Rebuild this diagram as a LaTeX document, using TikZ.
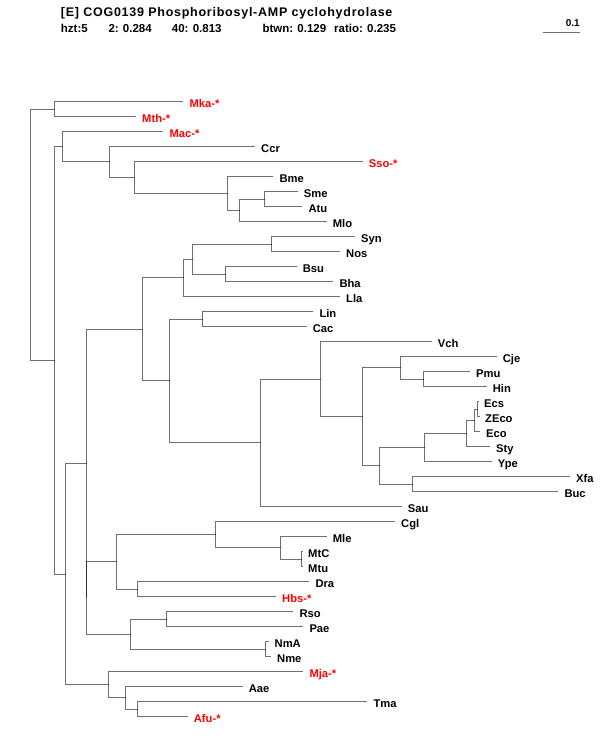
\documentclass[tikz,border=0pt]{standalone}
\usepackage{fontspec}
\setmainfont{Liberation Sans}
\newfontfamily\headfont[LetterSpace=6]{Liberation Sans}
\usetikzlibrary{positioning}

\begin{document}
\begin{tikzpicture}[x=1pt,y=-1pt]
	\tikzset{branch/.style={draw=black,draw opacity=0.56,line width=1.7pt}}
	\tikzset{leaf/.style={font=\fontsize{11.2}{13}\selectfont\bfseries,inner sep=0pt,yshift=-6pt}}
	\tikzset{redleaf/.style={leaf,text=red}}
	\tikzset{head/.style={font=\headfont\fontsize{12.5}{14}\selectfont\bfseries,inner sep=0pt,anchor=base west}}
	\tikzset{stat/.style={font=\fontsize{11.5}{14}\selectfont\bfseries,inner sep=0pt,anchor=base west}}
	\pgfmathsetmacro{\yo}{101.5};
	\pgfmathsetmacro{\dy}{15};
	\useasboundingbox (0,0) rectangle (600,750);
	\node[head] (title) at (60.7,16.7) {[E] COG0139 Phosphoribosyl-AMP cyclohydrolase};
	\node[stat] (hzt) at (60.7,32.3) {hzt:5};
	\node[stat] (s2) at (108.3,32.3) {2: 0.284};
	\node[stat] (s40) at (171.7,32.3) {40: 0.813};
	\node[stat] (btwn) at (262.3,32.3) {btwn: 0.129};
	\node[stat] (ratio) at (334,32.3) {ratio: 0.235};
	\coordinate (sbl) at (542.7,32.5);
	\coordinate (sbr) at (580,32.5);
	\draw[branch] (sbl) -- (sbr);
	\node[inner sep=0pt,font=\fontsize{10}{11}\selectfont\bfseries,above left=6pt and 0pt of sbr] (sblab) {0.1};
	\coordinate (Mka) at (183.3,{\yo+0*\dy}); \node[redleaf,base right=6pt of Mka] (tMka) {Mka-*};
	\coordinate (Mth) at (136,{\yo+1*\dy}); \node[redleaf,base right=6pt of Mth] (tMth) {Mth-*};
	\coordinate (Mac) at (163.3,{\yo+2*\dy}); \node[redleaf,base right=6pt of Mac] (tMac) {Mac-*};
	\coordinate (Ccr) at (255,{\yo+3*\dy}); \node[leaf,base right=6pt of Ccr] (tCcr) {Ccr};
	\coordinate (Sso) at (362.7,{\yo+4*\dy}); \node[redleaf,base right=6pt of Sso] (tSso) {Sso-*};
	\coordinate (Bme) at (273.3,{\yo+5*\dy}); \node[leaf,base right=6pt of Bme] (tBme) {Bme};
	\coordinate (Sme) at (297.7,{\yo+6*\dy}); \node[leaf,base right=6pt of Sme] (tSme) {Sme};
	\coordinate (Atu) at (302.3,{\yo+7*\dy}); \node[leaf,base right=6pt of Atu] (tAtu) {Atu};
	\coordinate (Mlo) at (326.7,{\yo+8*\dy}); \node[leaf,base right=6pt of Mlo] (tMlo) {Mlo};
	\coordinate (Syn) at (355,{\yo+9*\dy}); \node[leaf,base right=6pt of Syn] (tSyn) {Syn};
	\coordinate (Nos) at (340,{\yo+10*\dy}); \node[leaf,base right=6pt of Nos] (tNos) {Nos};
	\coordinate (Bsu) at (296.7,{\yo+11*\dy}); \node[leaf,base right=6pt of Bsu] (tBsu) {Bsu};
	\coordinate (Bha) at (333.3,{\yo+12*\dy}); \node[leaf,base right=6pt of Bha] (tBha) {Bha};
	\coordinate (Lla) at (340,{\yo+13*\dy}); \node[leaf,base right=6pt of Lla] (tLla) {Lla};
	\coordinate (Lin) at (313.3,{\yo+14*\dy}); \node[leaf,base right=6pt of Lin] (tLin) {Lin};
	\coordinate (Cac) at (306.7,{\yo+15*\dy}); \node[leaf,base right=6pt of Cac] (tCac) {Cac};
	\coordinate (Vch) at (431.7,{\yo+16*\dy}); \node[leaf,base right=6pt of Vch] (tVch) {Vch};
	\coordinate (Cje) at (496.7,{\yo+17*\dy}); \node[leaf,base right=6pt of Cje] (tCje) {Cje};
	\coordinate (Pmu) at (470,{\yo+18*\dy}); \node[leaf,base right=6pt of Pmu] (tPmu) {Pmu};
	\coordinate (Hin) at (486.7,{\yo+19*\dy}); \node[leaf,base right=6pt of Hin] (tHin) {Hin};
	\coordinate (Ecs) at (479,{\yo+20*\dy}); \node[leaf,base right=5pt of Ecs] (tEcs) {Ecs};
	\coordinate (ZEco) at (479.5,{\yo+21*\dy}); \node[leaf,base right=5.5pt of ZEco] (tZEco) {ZEco};
	\coordinate (Eco) at (480,{\yo+22*\dy}); \node[leaf,base right=6pt of Eco] (tEco) {Eco};
	\coordinate (Sty) at (490,{\yo+23*\dy}); \node[leaf,base right=6pt of Sty] (tSty) {Sty};
	\coordinate (Ype) at (491.7,{\yo+24*\dy}); \node[leaf,base right=6pt of Ype] (tYpe) {Ype};
	\coordinate (Xfa) at (570,{\yo+25*\dy}); \node[leaf,base right=6pt of Xfa] (tXfa) {Xfa};
	\coordinate (Buc) at (558.3,{\yo+26*\dy}); \node[leaf,base right=6pt of Buc] (tBuc) {Buc};
	\coordinate (Sau) at (401.7,{\yo+27*\dy}); \node[leaf,base right=6pt of Sau] (tSau) {Sau};
	\coordinate (Cgl) at (395,{\yo+28*\dy}); \node[leaf,base right=6pt of Cgl] (tCgl) {Cgl};
	\coordinate (Mle) at (326.7,{\yo+29*\dy}); \node[leaf,base right=6pt of Mle] (tMle) {Mle};
	\coordinate (MtC) at (302,{\yo+30*\dy}); \node[leaf,base right=6pt of MtC] (tMtC) {MtC};
	\coordinate (Mtu) at (302,{\yo+31*\dy}); \node[leaf,base right=6pt of Mtu] (tMtu) {Mtu};
	\coordinate (Dra) at (309.3,{\yo+32*\dy}); \node[leaf,base right=6pt of Dra] (tDra) {Dra};
	\coordinate (Hbs) at (276,{\yo+33*\dy}); \node[redleaf,base right=6pt of Hbs] (tHbs) {Hbs-*};
	\coordinate (Rso) at (293.3,{\yo+34*\dy}); \node[leaf,base right=6pt of Rso] (tRso) {Rso};
	\coordinate (Pae) at (303.3,{\yo+35*\dy}); \node[leaf,base right=6pt of Pae] (tPae) {Pae};
	\coordinate (NmA) at (268.5,{\yo+36*\dy}); \node[leaf,base right=6pt of NmA] (tNmA) {NmA};
	\coordinate (Nme) at (271,{\yo+37*\dy}); \node[leaf,base right=6pt of Nme] (tNme) {Nme};
	\coordinate (Mja) at (303.3,{\yo+38*\dy}); \node[redleaf,base right=6pt of Mja] (tMja) {Mja-*};
	\coordinate (Aae) at (242.7,{\yo+39*\dy}); \node[leaf,base right=6pt of Aae] (tAae) {Aae};
	\coordinate (Tma) at (367.3,{\yo+40*\dy}); \node[leaf,base right=6pt of Tma] (tTma) {Tma};
	\coordinate (Afu) at (187.7,{\yo+41*\dy}); \node[redleaf,base right=6pt of Afu] (tAfu) {Afu-*};
	\coordinate (A) at (54.5,109.5);
	\coordinate (H) at (264.5,199.5);
	\coordinate (G) at (239.5,210.5);
	\coordinate (F) at (227.5,193.5);
	\coordinate (E) at (134.5,177.5);
	\coordinate (D) at (109.5,161.5);
	\coordinate (C) at (62.5,146.5);
	\coordinate (P) at (271.5,244.5);
	\coordinate (Q) at (225.5,274.5);
	\coordinate (O) at (192.5,259.5);
	\coordinate (N) at (183.5,277.5);
	\coordinate (S) at (202.5,319.5);
	\coordinate (X) at (423.5,379.5);
	\coordinate (W) at (400.5,367.5);
	\coordinate (AC) at (477.5,409.5);
	\coordinate (AB) at (474.5,420.5);
	\coordinate (AA) at (466.5,433.5);
	\coordinate (Z) at (424.5,447.5);
	\coordinate (AD) at (412.5,484.5);
	\coordinate (Y) at (379.5,465.5);
	\coordinate (V) at (362.5,416.5);
	\coordinate (U) at (320.5,379.5);
	\coordinate (T) at (260.5,442.5);
	\coordinate (R) at (169.5,380.5);
	\coordinate (K) at (142.5,329.5);
	\coordinate (LC) at (301.5,559.5);
	\coordinate (LB) at (280.5,547.5);
	\coordinate (LA) at (215.5,534.5);
	\coordinate (LD) at (137.5,589.5);
	\coordinate (L) at (116.5,561.5);
	\coordinate (MA) at (166.5,619.5);
	\coordinate (MB) at (265.5,649.5);
	\coordinate (M) at (130.5,634.5);
	\coordinate (J2) at (86.5,597.5);
	\coordinate (J) at (86.5,463.5);
	\coordinate (AG) at (137.5,709.5);
	\coordinate (AF) at (125.5,697.5);
	\coordinate (AE) at (108.5,684.5);
	\coordinate (I) at (65.5,574.5);
	\coordinate (B) at (54.5,360.5);
	\coordinate (root) at (30.5,234.5);
	\draw[branch] (root) |- (A) (root) |- (B);
	\draw[branch] (A) |- (Mka) (A) |- (Mth);
	\draw[branch] (B) |- (C) (B) |- (I);
	\draw[branch] (C) |- (Mac) (C) |- (D);
	\draw[branch] (D) |- (Ccr) (D) |- (E);
	\draw[branch] (E) |- (Sso) (E) |- (F);
	\draw[branch] (F) |- (Bme) (F) |- (G);
	\draw[branch] (G) |- (H) (G) |- (Mlo);
	\draw[branch] (H) |- (Sme) (H) |- (Atu);
	\draw[branch] (I) |- (J) (I) |- (AE);
	\draw[branch] (J) |- (K) (J) |- (J2);
	\draw[branch] (K) |- (N) (K) |- (R);
	\draw[branch] (N) |- (O) (N) |- (Lla);
	\draw[branch] (O) |- (P) (O) |- (Q);
	\draw[branch] (P) |- (Syn) (P) |- (Nos);
	\draw[branch] (Q) |- (Bsu) (Q) |- (Bha);
	\draw[branch] (R) |- (S) (R) |- (T);
	\draw[branch] (S) |- (Lin) (S) |- (Cac);
	\draw[branch] (T) |- (U) (T) |- (Sau);
	\draw[branch] (U) |- (Vch) (U) |- (V);
	\draw[branch] (V) |- (W) (V) |- (Y);
	\draw[branch] (W) |- (Cje) (W) |- (X);
	\draw[branch] (X) |- (Pmu) (X) |- (Hin);
	\draw[branch] (Y) |- (Z) (Y) |- (AD);
	\draw[branch] (Z) |- (AA) (Z) |- (Ype);
	\draw[branch] (AA) |- (AB) (AA) |- (Sty);
	\draw[branch] (AB) |- (AC) (AB) |- (Eco);
	\draw[branch] (AC) |- (Ecs) (AC) |- (ZEco);
	\draw[branch] (AD) |- (Xfa) (AD) |- (Buc);
	\draw[branch] (J2) |- (L) (J2) |- (M);
	\draw[branch] (L) |- (LA) (L) |- (LD);
	\draw[branch] (LA) |- (Cgl) (LA) |- (LB);
	\draw[branch] (LB) |- (Mle) (LB) |- (LC);
	\draw[branch] (LC) |- (MtC) (LC) |- (Mtu);
	\draw[branch] (LD) |- (Dra) (LD) |- (Hbs);
	\draw[branch] (M) |- (MA) (M) |- (MB);
	\draw[branch] (MA) |- (Rso) (MA) |- (Pae);
	\draw[branch] (MB) |- (NmA) (MB) |- (Nme);
	\draw[branch] (AE) |- (Mja) (AE) |- (AF);
	\draw[branch] (AF) |- (Aae) (AF) |- (AG);
	\draw[branch] (AG) |- (Tma) (AG) |- (Afu);
\end{tikzpicture}
\end{document}
